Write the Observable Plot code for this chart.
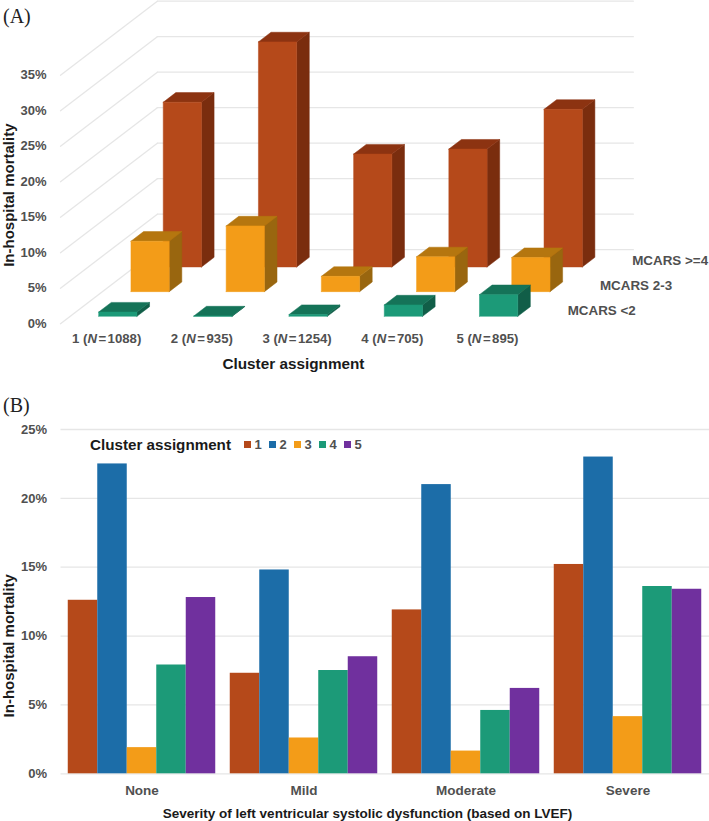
<!DOCTYPE html>
<html>
<head>
<meta charset="utf-8">
<script src="https://cdn.jsdelivr.net/npm/d3@7"></script>
<script src="https://cdn.jsdelivr.net/npm/@observablehq/plot@0.6"></script>
<style>
  html, body { margin: 0; padding: 0; background: #fff; }
  #page { position: relative; width: 709px; height: 821px; overflow: hidden; font-family: "Liberation Sans", Arial, sans-serif; }
  #page svg { position: absolute; left: 0; display: block; }
  .tag { position: absolute; left: 3px; font: 20px/1 "Liberation Serif", serif; color: #222; }
  #legend { position: absolute; left: 90px; top: 436px; height: 16px; display: flex; align-items: center; font-weight: bold; white-space: nowrap; }
  #legend .t { font-size: 15.2px; color: #1a1a1a; width: 154px; }
  #legend .k { display: flex; align-items: center; width: 25px; font-size: 13px; color: #505050; }
  #legend .k i { display: block; width: 7px; height: 7px; margin-right: 3.5px; }
</style>
</head>
<body>
<div id="page">
  <div class="tag" style="top:6px">(A)</div>
  <div class="tag" style="top:395px">(B)</div>
  <div id="legend"></div>
</div>
<script>
// Panel A values (% in-hospital mortality)
const clusterLabels = ["1 (N=1088)", "2 (N=935)", "3 (N=1254)", "4 (N=705)", "5 (N=895)"];
const mcarsLabels = ["MCARS <2", "MCARS 2-3", "MCARS >=4"];
const mcarsLow = [0.6, 0.05, 0.25, 1.6, 3.05];
const mcarsMid = [7.1, 9.25, 2.15, 4.9, 4.8];
const mcarsHigh = [23.2, 31.7, 15.9, 16.6, 22.2];
const ticksA = [0, 5, 10, 15, 20, 25, 30, 35];

// Panel B values
const severities = ["None", "Mild", "Moderate", "Severe"];
const clusters = ["1", "2", "3", "4", "5"];
const sevNone = [12.6, 22.5, 1.9, 7.9, 12.8];
const sevMild = [7.3, 14.8, 2.6, 7.5, 8.5];
const sevModerate = [11.9, 21.0, 1.65, 4.6, 6.2];
const sevSevere = [15.2, 23.0, 4.15, 13.6, 13.4];
const ticksB = [0, 5, 10, 15, 20, 25];

// Colours
const clusterColors = ["#B5491A", "#1C6DA8", "#F39C18", "#1C9A78", "#70309E"];
const seriesFaces = [
  {front: "#1C9A78", top: "#157358", side: "#115E48"},
  {front: "#F39C18", top: "#B5760F", side: "#99660F"},
  {front: "#B5491A", top: "#8C3311", side: "#7A2D0E"}
];

const tickColor = "#505050", titleColor = "#1a1a1a", gridColor = "#e6e6e6";
const pct = d => d + "%";
const page = document.getElementById("page");

// ---- Panel A: oblique 3-D projection into the plot's x/y data units
const kx = 0.339, ky = 3.475;             // shear per depth slot
const project = (c, d, v) => ({x: c + d * kx, y: v + d * ky});
const barL = 0.2994, barW = 0.402, dFront = 0.3, dBack = 0.69;

const polys = [];
function face(id, color, pts) {
  [...pts, pts[0]].forEach(p => polys.push({id, color, ...project(...p)}));
}
[mcarsHigh, mcarsMid, mcarsLow].forEach((series, k) => {
  const s = 2 - k;
  series.forEach((v, i) => {
    const c0 = i + barL, c1 = c0 + barW, d0 = s + dFront, d1 = s + dBack;
    const col = seriesFaces[s];
    face(`s${s}c${i}side`, col.side, [[c1, d0, 0], [c1, d1, 0], [c1, d1, v], [c1, d0, v]]);
    face(`s${s}c${i}top`, col.top, [[c0, d0, v], [c1, d0, v], [c1, d1, v], [c0, d1, v]]);
    face(`s${s}c${i}front`, col.front, [[c0, d0, 0], [c1, d0, 0], [c1, d0, v], [c0, d0, v]]);
  });
});
const gridA = ticksA.flatMap(v => [
  {id: `w${v}`, ...project(0, 3, v)}, {id: `w${v}`, ...project(5, 3, v)},
  {id: `f${v}`, ...project(0, 0, v)}, {id: `f${v}`, ...project(0, 3, v)}
]);

function italicN(index, scales, values, dims, ctx, next) {
  const g = next(index, scales, values, dims, ctx);
  d3.select(g).selectAll("text").each(function () {
    const m = this.textContent.match(/^(.*\()N=(.*)$/);
    if (!m) return;
    const t = d3.select(this).text(null);
    t.append("tspan").text(m[1]);
    t.append("tspan").attr("font-style", "italic").text("N");
    t.append("tspan").attr("dx", 1.5).text("=");
    t.append("tspan").attr("dx", 1.5).text(m[2]);
  });
  return g;
}

const heightA = 385, pxPerCluster = 95.2, pxPerPct = 7.1, originY = 323.2;
const plotA = Plot.plot({
  width: 709, height: heightA,
  marginLeft: 60, marginRight: 0, marginTop: 0, marginBottom: 61,
  style: {fontFamily: '"Liberation Sans", Arial, sans-serif', background: "transparent", overflow: "visible"},
  x: {type: "linear", domain: [0, (709 - 60) / pxPerCluster], range: [60, 709], axis: null},
  y: {type: "linear", domain: [0, originY / pxPerPct], range: [originY, 0], axis: null},
  color: {type: "identity"},
  marks: [
    Plot.line(gridA, {x: "x", y: "y", z: "id", stroke: gridColor, strokeWidth: 1.3}),
    Plot.line(polys, {x: "x", y: "y", z: "id", fill: d => d.color, stroke: d => d.color, strokeWidth: 0.5, strokeLinejoin: "round"}),
    Plot.text(ticksA, {x: 0, y: d => d, text: pct, textAnchor: "end", dx: -14, fontWeight: "bold", fontSize: 13, fill: tickColor}),
    Plot.text(clusterLabels, {x: (d, i) => i + 0.485, y: 0, dy: 15, text: d => d, fontWeight: "bold", fontSize: 13.2, fill: tickColor, render: italicN}),
    Plot.text(mcarsLabels, {
      x: (d, i) => project(5, i + 0.5, 0).x, y: (d, i) => project(5, i + 0.5, 0).y,
      text: d => d, textAnchor: "start", dx: 15, dy: -1, fontWeight: "bold", fontSize: 13.4, fill: tickColor
    }),
    Plot.text(["Cluster assignment"], {x: 2.447, y: 0, dy: 40, text: d => d, fontWeight: "bold", fontSize: 15.3, fill: titleColor}),
    Plot.text(["In-hospital mortality"], {x: 0, y: 18.1, dx: -51.5, text: d => d, rotate: -90, fontWeight: "bold", fontSize: 15, fill: titleColor})
  ]
});
plotA.style.top = "0px";
page.appendChild(plotA);

// ---- Panel B: grouped bars
const sevSeries = [sevNone, sevMild, sevModerate, sevSevere];
const rowsB = sevSeries.flatMap((vals, g) => vals.map((v, i) => ({g, i, v})));
const pad = 0.0448, bw = (1 - 2 * pad) / 5;

const plotB = Plot.plot({
  width: 709, height: 436,
  marginLeft: 60, marginRight: 0, marginTop: 44, marginBottom: 48,
  style: {fontFamily: '"Liberation Sans", Arial, sans-serif', background: "transparent", overflow: "visible"},
  x: {type: "linear", domain: [0, 4], range: [60.5, 708.5], axis: null},
  y: {type: "linear", domain: [0, 25], range: [388.3, 44], axis: null},
  color: {type: "identity"},
  marks: [
    Plot.ruleY(ticksB, {y: d => d, x1: 0, x2: 4.01, stroke: gridColor, strokeWidth: 1.3}),
    Plot.rectY(rowsB, {
      x1: d => d.g + pad + d.i * bw, x2: d => d.g + pad + (d.i + 1) * bw,
      y1: 0, y2: "v", fill: d => clusterColors[d.i], inset: 0
    }),
    Plot.text(ticksB, {x: 0, y: d => d, text: pct, textAnchor: "end", dx: -14, fontWeight: "bold", fontSize: 13, fill: tickColor}),
    Plot.text(severities, {x: (d, i) => i + 0.5, y: 0, dy: 17, text: d => d, fontWeight: "bold", fontSize: 13.5, fill: tickColor}),
    Plot.text(["Severity of left ventricular systolic dysfunction (based on LVEF)"], {x: 1.892, y: 0, dy: 40, text: d => d, fontWeight: "bold", fontSize: 13.5, fill: titleColor}),
    Plot.text(["In-hospital mortality"], {x: 0, y: 9.3, dx: -51.5, text: d => d, rotate: -90, fontWeight: "bold", fontSize: 15, fill: titleColor})
  ]
});
plotB.style.top = "385px";
page.appendChild(plotB);

// Legend for panel B
const legend = document.getElementById("legend");
page.appendChild(legend);
legend.innerHTML = `<span class="t">Cluster assignment</span>` +
  clusters.map((c, i) => `<span class="k"><i style="background:${clusterColors[i]}"></i>${c}</span>`).join("");
</script>
</body>
</html>
